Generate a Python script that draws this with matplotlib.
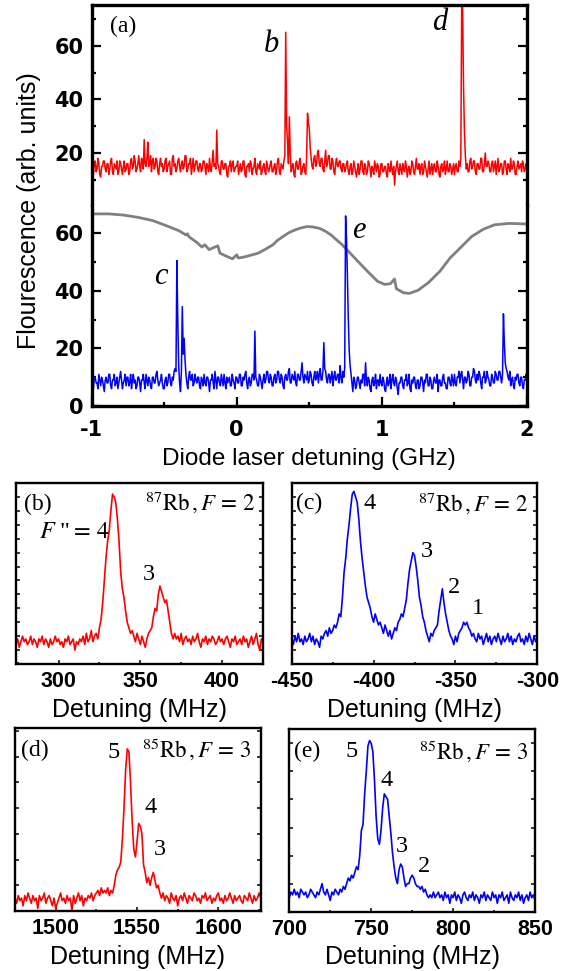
import numpy as np
import matplotlib.pyplot as plt
from matplotlib.ticker import MultipleLocator

plt.rcParams['mathtext.fontset'] = 'stix'
plt.rcParams['font.family'] = ['Liberation Sans', 'DejaVu Sans']

# ---- full scan, -1 .. 2 GHz, even steps (481 samples) ----
scan_ghz = [-1.0, 2.0]
scan_red = [
    15, 13, 12, 16, 17, 13, 14, 18, 16, 12, 11, 15, 15, 17, 17, 14, 13, 16, 16, 12,
    14, 17, 18, 13, 12, 16, 15, 14, 17, 12, 13, 17, 16, 14, 12, 15, 17, 13, 14, 16,
    16, 12, 13, 17, 18, 14, 15, 19, 17, 13, 14, 16, 19, 15, 13, 18, 17, 14, 25, 16,
    15, 18, 24, 15, 16, 19, 13, 17, 18, 14, 15, 18, 17, 13, 12, 16, 18, 15, 16, 13,
    14, 17, 18, 13, 15, 16, 17, 12, 12, 18, 19, 15, 16, 13, 14, 17, 18, 15, 13, 16,
    17, 14, 15, 19, 19, 13, 14, 16, 16, 18, 12, 15, 18, 13, 15, 17, 17, 14, 13, 16,
    16, 13, 14, 17, 17, 15, 12, 16, 15, 13, 18, 14, 13, 17, 21, 15, 16, 14, 28.5, 16,
    15, 13, 12, 17, 17, 14, 14, 16, 16, 12, 11, 15, 15, 17, 13, 16, 17, 13, 14, 15,
    15, 17, 12, 14, 16, 13, 14, 17, 17, 12, 11, 15, 15, 16, 13, 17, 16, 12, 14, 15,
    18, 13, 12, 16, 15, 14, 17, 12, 13, 15, 16, 13, 12, 17, 15, 13, 14, 16, 17, 13,
    13, 15, 16, 12, 14, 17, 18, 13, 12, 16, 15, 14, 17, 19, 65, 30, 24, 16, 33.5, 20,
    13, 15, 16, 12, 11, 16, 17, 14, 14, 17, 18, 12, 13, 15, 16, 13, 12, 18, 34.8, 31,
    29, 22, 18, 15, 14, 18, 19, 15, 16, 20, 21, 16, 15, 18, 18, 14, 13, 17, 21, 15,
    16, 19, 19, 14, 14, 18, 17, 13, 12, 16, 18, 15, 15, 17, 17, 14, 13, 16, 16, 13,
    14, 16, 17, 13, 12, 15, 16, 12, 13, 17, 15, 13, 11, 14, 16, 12, 14, 17, 17, 13,
    12, 16, 15, 12, 13, 17, 16, 14, 11, 15, 14, 12, 17, 15, 13, 16, 15, 11, 12, 16,
    16, 13, 13, 15, 15, 12, 11, 16, 14, 13, 17, 14, 12, 15, 8, 13, 15, 17, 13, 12,
    16, 14, 12, 16, 14, 13, 17, 15, 11, 14, 15, 12, 13, 17, 16, 13, 12, 15, 18, 14,
    14, 16, 12, 15, 16, 12, 13, 17, 15, 13, 11, 14, 17, 12, 14, 16, 12, 15, 16, 13,
    13, 17, 15, 12, 11, 15, 16, 13, 14, 17, 12, 14, 17, 13, 13, 16, 15, 12, 14, 16,
    12, 15, 16, 13, 13, 17, 15, 18, 76, 74, 45, 28, 19, 14, 16, 13, 13, 17, 18, 14,
    15, 17, 17, 13, 12, 16, 16, 14, 14, 18, 18, 13, 13, 16, 20, 15, 15, 17, 16, 13,
    13, 16, 17, 13, 15, 17, 12, 15, 18, 13, 14, 16, 16, 12, 13, 17, 17, 14, 12, 16,
    15, 13, 18, 14, 14, 17, 16, 12, 12, 15, 17, 14, 15, 16, 13, 17, 16, 13, 14, 16, 15,
]
scan_blue = [
    9, 7, 6, 10, 10, 8, 8, 6, 11, 9, 7, 10, 9, 7, 5, 9, 10, 8, 8, 11,
    11, 7, 6, 9, 9, 11, 7, 8, 10, 6, 8, 10, 12, 9, 6, 8, 9, 11, 7, 10,
    10, 7, 8, 11, 6, 9, 11, 8, 9, 6, 7, 10, 10, 8, 5, 9, 9, 11, 8, 6,
    11, 9, 7, 10, 9, 7, 6, 10, 10, 8, 8, 11, 12, 9, 7, 8, 9, 11, 8, 6,
    6, 9, 10, 7, 8, 11, 11, 8, 7, 10, 9, 12, 13, 12, 50.5, 30, 14, 8, 5, 12,
    34.5, 18, 23.5, 16, 11, 8, 6, 10, 12, 9, 9, 11, 7, 8, 11, 9, 8, 10, 10, 7,
    6, 10, 9, 7, 11, 8, 7, 10, 10, 8, 5, 9, 9, 11, 8, 6, 12, 9, 6, 10,
    10, 8, 7, 11, 9, 7, 11, 8, 6, 10, 8, 9, 10, 7, 7, 11, 9, 8, 6, 10,
    10, 8, 8, 11, 11, 7, 7, 10, 9, 11, 12, 8, 6, 9, 10, 7, 8, 11, 11, 9,
    26, 10, 9, 7, 7, 11, 10, 8, 6, 9, 11, 8, 9, 12, 12, 9, 8, 11, 10, 7,
    7, 10, 11, 8, 9, 12, 12, 9, 8, 11, 10, 7, 6, 10, 11, 9, 9, 12, 13, 8,
    8, 11, 10, 9, 12, 8, 7, 11, 11, 9, 9, 12, 15, 10, 8, 11, 10, 9, 12, 8,
    9, 12, 11, 8, 7, 10, 12, 9, 10, 12, 8, 11, 13, 9, 9, 12, 22, 13, 12, 9,
    8, 11, 11, 8, 10, 12, 7, 10, 12, 9, 9, 11, 11, 8, 14, 10, 8, 12, 10, 13,
    66, 58, 45, 30, 19, 14, 11, 8, 5, 10, 9, 6, 7, 10, 10, 8, 6, 9, 8, 11,
    11, 7, 15, 9, 7, 10, 9, 6, 5, 9, 10, 7, 8, 11, 6, 9, 9, 7, 11, 8,
    7, 10, 9, 6, 5, 8, 10, 7, 8, 11, 6, 9, 11, 8, 7, 10, 9, 6, 4, 8,
    8, 10, 10, 7, 6, 9, 9, 11, 7, 8, 11, 6, 5, 9, 8, 10, 10, 7, 6, 9,
    9, 6, 7, 10, 10, 8, 5, 9, 8, 11, 11, 7, 7, 10, 9, 6, 6, 9, 10, 8,
    8, 11, 5, 9, 9, 7, 7, 10, 11, 8, 8, 6, 6, 10, 10, 8, 7, 11, 9, 7,
    11, 8, 7, 10, 10, 12, 8, 11, 12, 9, 6, 10, 10, 8, 9, 12, 11, 7, 7, 10,
    10, 13, 12, 9, 8, 11, 9, 12, 11, 8, 6, 10, 10, 12, 8, 9, 12, 10, 9, 7,
    7, 11, 10, 8, 8, 12, 11, 9, 9, 12, 12, 10, 8, 11, 32, 22, 15, 13, 12, 10,
    9, 12, 7, 9, 10, 7, 6, 10, 9, 11, 11, 8, 7, 10, 10, 7, 6, 9, 9, 11, 8,
]

# reference cell transmission (gray)
ref_ghz = [-0.99, -0.88, -0.78, -0.68, -0.58, -0.48, -0.40, -0.35, -0.34, -0.33,
           -0.30, -0.27, -0.24, -0.22, -0.19, -0.15, -0.13, -0.116, -0.08, -0.03,
           0.0, 0.01, 0.04, 0.07, 0.10, 0.15, 0.20, 0.25, 0.28, 0.32,
           0.36, 0.40, 0.44, 0.485, 0.52, 0.57, 0.61, 0.65, 0.68, 0.72,
           0.77, 0.835, 0.90, 0.97, 1.02, 1.06, 1.087, 1.10, 1.15, 1.19,
           1.25, 1.32, 1.40, 1.47, 1.55, 1.62, 1.70, 1.775, 1.875, 2.0]
ref_signal = [66.7, 66.7, 66.3, 65.5, 64.4, 62.5, 60.9, 59.4, 59.8, 58.8,
              57.7, 56.6, 55.2, 56.0, 54.3, 55.2, 55.6, 53.1, 52.2, 51.1,
              52.5, 51.4, 51.6, 52.0, 52.4, 53.1, 54.5, 56.0, 57.5, 58.9,
              60.2, 61.1, 61.8, 62.3, 62.2, 61.7, 60.7, 59.4, 58.0, 56.3,
              53.7, 50.2, 46.8, 43.3, 42.2, 42.5, 44.1, 40.7, 39.3, 39.1,
              40.2, 42.8, 46.8, 51.4, 55.4, 58.9, 61.4, 62.9, 63.4, 63.2]

ghz_ticks = [-1, 0, 1, 2]
ghz_labels = ['-1', '0', '1', '2']
top_ticks = [20, 40, 60]
bot_ticks = [0, 20, 40, 60]

# ---- zoomed scans, 1 MHz steps ----
b_mhz = [274, 425]
b_signal = [
    7, 9, 6, 8, 10, 8, 9, 7, 8, 10, 7, 9, 8, 6, 9, 8, 10, 7, 9, 8, 6, 9, 7, 8, 10, 8,
    9, 7, 8, 6, 9, 8, 10, 7, 8, 9, 5, 8, 7, 9, 8, 10, 7, 11, 8, 9, 12, 8, 10, 11, 9,
    13, 16, 22, 30, 38, 44, 48, 55, 61, 60, 58, 52, 44, 33, 27, 24, 19, 15, 13, 11, 12,
    10, 8, 11, 9, 7, 10, 8, 6, 9, 11,
    12, 13, 17, 20, 19, 25, 28, 26, 24, 22, 23, 19, 15, 11, 9,
    11, 9, 10, 8, 11, 7, 9, 10, 8, 9, 7, 10, 8, 9, 11, 8, 6, 9, 8, 10,
    7, 9, 8, 10, 9, 7, 8, 10, 8, 9, 7, 9, 10, 8, 6, 9, 8, 10, 7, 8,
    9, 7, 10, 8, 9, 6, 8, 10, 7, 9, 11, 7, 5, 9, 8,
]
b_ticks = [300, 350, 400]

c_mhz = [-450, -300]
c_signal = [
    9, 7, 10, 8, 11, 8, 9, 7, 10, 8, 9, 11, 8, 10, 7, 9, 8, 6, 10, 9, 11, 12, 10, 13, 11,
    12, 14, 13, 15, 18, 17, 24, 33, 38, 45, 50, 56, 61, 62, 60, 58, 52, 44, 38, 33,
    28, 24, 22, 20, 17, 15, 18, 16, 14, 15,
    13, 11, 14, 12, 10, 12, 9, 11, 13, 12, 15,
    16, 18, 17, 20, 23, 29, 34, 37, 40, 39, 35, 30, 24, 21, 17, 15, 12, 10, 8,
    11, 10, 12, 13,
    14, 19, 23, 27, 22, 18, 15, 12, 10,
    9, 7, 10, 8, 11,
    12, 13, 15, 14, 15, 13, 12, 10, 11,
    9, 8, 11, 9, 10, 7, 9, 11, 8, 10, 7, 9, 10, 8, 11, 9, 7, 10, 8, 9,
    11, 8, 10, 7, 9, 8, 10, 11, 8, 9, 7, 10, 8, 11, 9, 7, 10, 8, 9,
]
c_ticks = [-450, -400, -350, -300]

d_mhz = [1475, 1626]
d_signal = [
    5, 3, 6, 4, 5, 2, 6, 4, 7, 5, 3, 6, 4, 5, 1, 6, 4, 5, 7, 3,
    5, 6, 4, 2, 5, 1, 3, 5, 7, 4, 5, 3, 6, 4, 5, 0, 6, 3, 5, 7,
    4, 6, 2, 5, 4, 6, 5, 7, 4, 6,
    7, 8, 6, 9, 7, 8, 7, 9, 6, 8, 7,
    10, 14, 16, 17, 19, 28, 40, 55, 63, 62, 50, 35, 24, 21, 27, 34, 33, 30, 18, 15,
    11, 13, 10, 13, 15, 12, 9, 10, 7, 5, 7,
    4, 6, 5, 3, 7, 5, 4, 6, 2, 5, 6, 4, 7, 5, 3, 6, 5, 4, 7, 6,
    4, 5, 3, 6, 5, 7, 4, 5, 6, 3, 5, 4, 6, 7, 4, 5, 3, 6, 4, 5,
    7, 5, 3, 6, 4, 5, 6, 4, 3, 6, 5, 4, 7, 5, 3, 6, 4, 5, 7, 5,
]
d_ticks = [1500, 1550, 1600]

e_mhz = [700, 850]
e_signal = [
    5, 7, 6, 8, 6, 7, 5, 8, 7, 6, 7, 5, 6, 8, 7, 6, 5, 7, 6, 8,
    10, 7, 6, 8, 6, 4, 7, 6, 8, 7, 6, 8, 7, 9, 8,
    10, 12, 11, 13, 12, 14, 16, 15, 20, 29, 31, 42, 50, 59, 61, 60, 57, 47, 34, 26,
    24, 29, 37, 42, 41, 40, 34, 28, 21, 16, 12, 10, 15, 17, 16, 12, 9, 10, 10, 12,
    13, 12, 10, 9, 9, 8, 9, 7, 8, 6, 5, 6, 5, 7, 5, 6,
    7, 5, 6, 4, 7, 5, 6, 3, 6, 5, 7, 4, 6, 5, 3, 6, 7, 5, 4, 6,
    5, 7, 4, 6, 5, 3, 6, 5, 7, 4, 6, 5, 4, 7, 5, 6, 3, 6, 5, 7,
    4, 5, 6, 3, 7, 5, 4, 6, 5, 7, 4, 6, 3, 5, 6, 4, 7, 5, 6, 4,
]
e_ticks = [700, 750, 800, 850]

RED = '#ff0000'
BLUE = '#0000ff'
GRAY = '#808080'
SERIF = 'Liberation Serif'

fig = plt.figure(figsize=(5.7, 9.71), dpi=100)


def dress(ax, spine_w, major, minor, tick_w):
    for sp in ax.spines.values():
        sp.set_linewidth(spine_w)
    ax.tick_params(which='both', direction='in', left=True, right=True,
                   top=False, width=tick_w)
    ax.tick_params(which='major', length=major)
    ax.tick_params(which='minor', length=minor)


# ---- panel (a): two stacked traces in one frame ----
ax_top = fig.add_axes([0.1607, 0.7889, 0.7639, 0.2060])
ax_bot = fig.add_axes([0.1607, 0.5819, 0.7639, 0.2070], sharex=ax_top)

x_red = np.linspace(scan_ghz[0], scan_ghz[1], len(scan_red))
x_blue = np.linspace(scan_ghz[0], scan_ghz[1], len(scan_blue))
ax_top.plot(x_red, scan_red, color=RED, lw=1.1)
ax_bot.plot(ref_ghz, ref_signal, color=GRAY, lw=2.0)
ax_bot.plot(x_blue, scan_blue, color=BLUE, lw=1.1)

ax_top.set_xlim(-1, 2)
ax_top.set_ylim(0.6, 75.2)
ax_bot.set_ylim(0, 69.8)

for ax in (ax_top, ax_bot):
    dress(ax, 2.4, 6.5, 3.2, 1.6)
ax_top.spines['bottom'].set_visible(False)
ax_bot.spines['top'].set_visible(False)
ax_top.tick_params(which='both', bottom=False, labelbottom=False)

ax_bot.set_xticks(ghz_ticks)
ax_bot.set_xticklabels(ghz_labels, fontfamily='DejaVu Sans', fontweight='bold', fontsize=15)
ax_bot.xaxis.set_minor_locator(MultipleLocator(0.5))
ax_bot.tick_params(axis='x', which='major', pad=10)

ax_top.set_yticks(top_ticks)
ax_top.set_yticklabels([str(t) for t in top_ticks], fontfamily='DejaVu Sans',
                       fontweight='bold', fontsize=15)
ax_top.yaxis.set_minor_locator(MultipleLocator(10))
ax_bot.set_yticks(bot_ticks)
ax_bot.set_yticklabels([str(t) for t in bot_ticks], fontfamily='DejaVu Sans',
                       fontweight='bold', fontsize=15)
ax_bot.yaxis.set_minor_locator(MultipleLocator(10))
for ax in (ax_top, ax_bot):
    ax.tick_params(axis='y', which='major', pad=6)

ax_bot.set_xlabel('Diode laser detuning (GHz)', fontsize=17.5, labelpad=6)
fig.text(29 / 570, 1 - 211 / 971, 'Flourescence (arb. units)', rotation=90,
         ha='center', va='center', fontsize=18)

ax_top.text(0.073, 0.895, '(a)', transform=ax_top.transAxes, ha='center',
            va='center', fontsize=17, family=SERIF)
ax_top.text(0.236, 60.3, 'b', ha='center', va='center', fontsize=22,
            family=SERIF, style='italic')
ax_top.text(1.401, 68.7, 'd', ha='center', va='center', fontsize=22,
            family=SERIF, style='italic')
ax_bot.text(-0.522, 44.9, 'c', ha='center', va='center', fontsize=22,
            family=SERIF, style='italic')
ax_bot.text(0.843, 60.9, 'e', ha='center', va='center', fontsize=22,
            family=SERIF, style='italic')


# ---- zoomed panels (b)-(e) ----
def zoom_panel(rect, span, signal, color, ticks, ylim, ystep, tag, tag_xy,
               iso, iso_xy, peaks):
    ax = fig.add_axes(rect)
    x = np.linspace(span[0], span[1], len(signal))
    ax.plot(x, signal, color=color, lw=1.2)
    ax.set_xlim(span[0], span[1])
    ax.set_ylim(*ylim)
    dress(ax, 1.7, 3.2, 1.8, 1.1)
    ax.set_xticks(ticks)
    ax.set_xticklabels([str(t) for t in ticks], fontweight='bold', fontsize=15.5)
    ax.xaxis.set_minor_locator(MultipleLocator(25))
    ax.yaxis.set_major_locator(MultipleLocator(ystep))
    ax.tick_params(axis='y', which='major', length=2.6, labelleft=False)
    ax.tick_params(axis='x', which='major', pad=5)
    ax.set_xlabel('Detuning (MHz)', fontsize=18, labelpad=4)
    ax.text(tag_xy[0], tag_xy[1], tag, transform=ax.transAxes, ha='center',
            va='center', fontsize=17, family=SERIF)
    ax.text(iso_xy[0], iso_xy[1], iso, transform=ax.transAxes, ha='right',
            va='center', fontsize=16.5, family=SERIF)
    for label, px, py in peaks:
        ax.text(px, py, label, transform=ax.transAxes, ha='center',
                va='center', fontsize=17.5, family=SERIF)
    return ax


rb87 = r'$^{87}\mathrm{Rb}\,,F\,=\,2$'
rb85 = r'$^{85}\mathrm{Rb}\,,F\,=\,3$'
f_upper = r'$F$ "$=\,4$'

zoom_panel([16 / 570, 1 - 664 / 971, 247 / 570, 181 / 971], b_mhz, b_signal, RED,
           b_ticks, (0, 65), 5, '(b)', (0.087, 0.881), rb87, (0.968, 0.897),
           [(f_upper, 0.235, 0.727), ('3', 0.538, 0.492)])
zoom_panel([291.7 / 570, 1 - 664 / 971, 245.6 / 570, 181 / 971], c_mhz, c_signal, BLUE,
           c_ticks, (0, 65), 5, '(c)', (0.071, 0.888), rb87, (0.963, 0.888),
           [('4', 0.315, 0.884), ('3', 0.551, 0.624), ('2', 0.661, 0.425),
            ('1', 0.759, 0.304)])
zoom_panel([15 / 570, 1 - 911 / 971, 245.7 / 570, 182.7 / 971], d_mhz, d_signal, RED,
           d_ticks, (0, 71), 10, '(d)', (0.081, 0.877), rb85, (0.963, 0.881),
           [('5', 0.403, 0.870), ('4', 0.553, 0.569), ('3', 0.588, 0.339)])
zoom_panel([289.3 / 570, 1 - 911.7 / 971, 245.7 / 570, 182.4 / 971], e_mhz, e_signal, BLUE,
           e_ticks, (0, 65), 10, '(e)', (0.071, 0.876), rb85, (0.973, 0.876),
           [('5', 0.255, 0.881), ('4', 0.394, 0.718), ('3', 0.459, 0.360),
            ('2', 0.548, 0.250)])

fig.savefig('out.png', dpi=100)
